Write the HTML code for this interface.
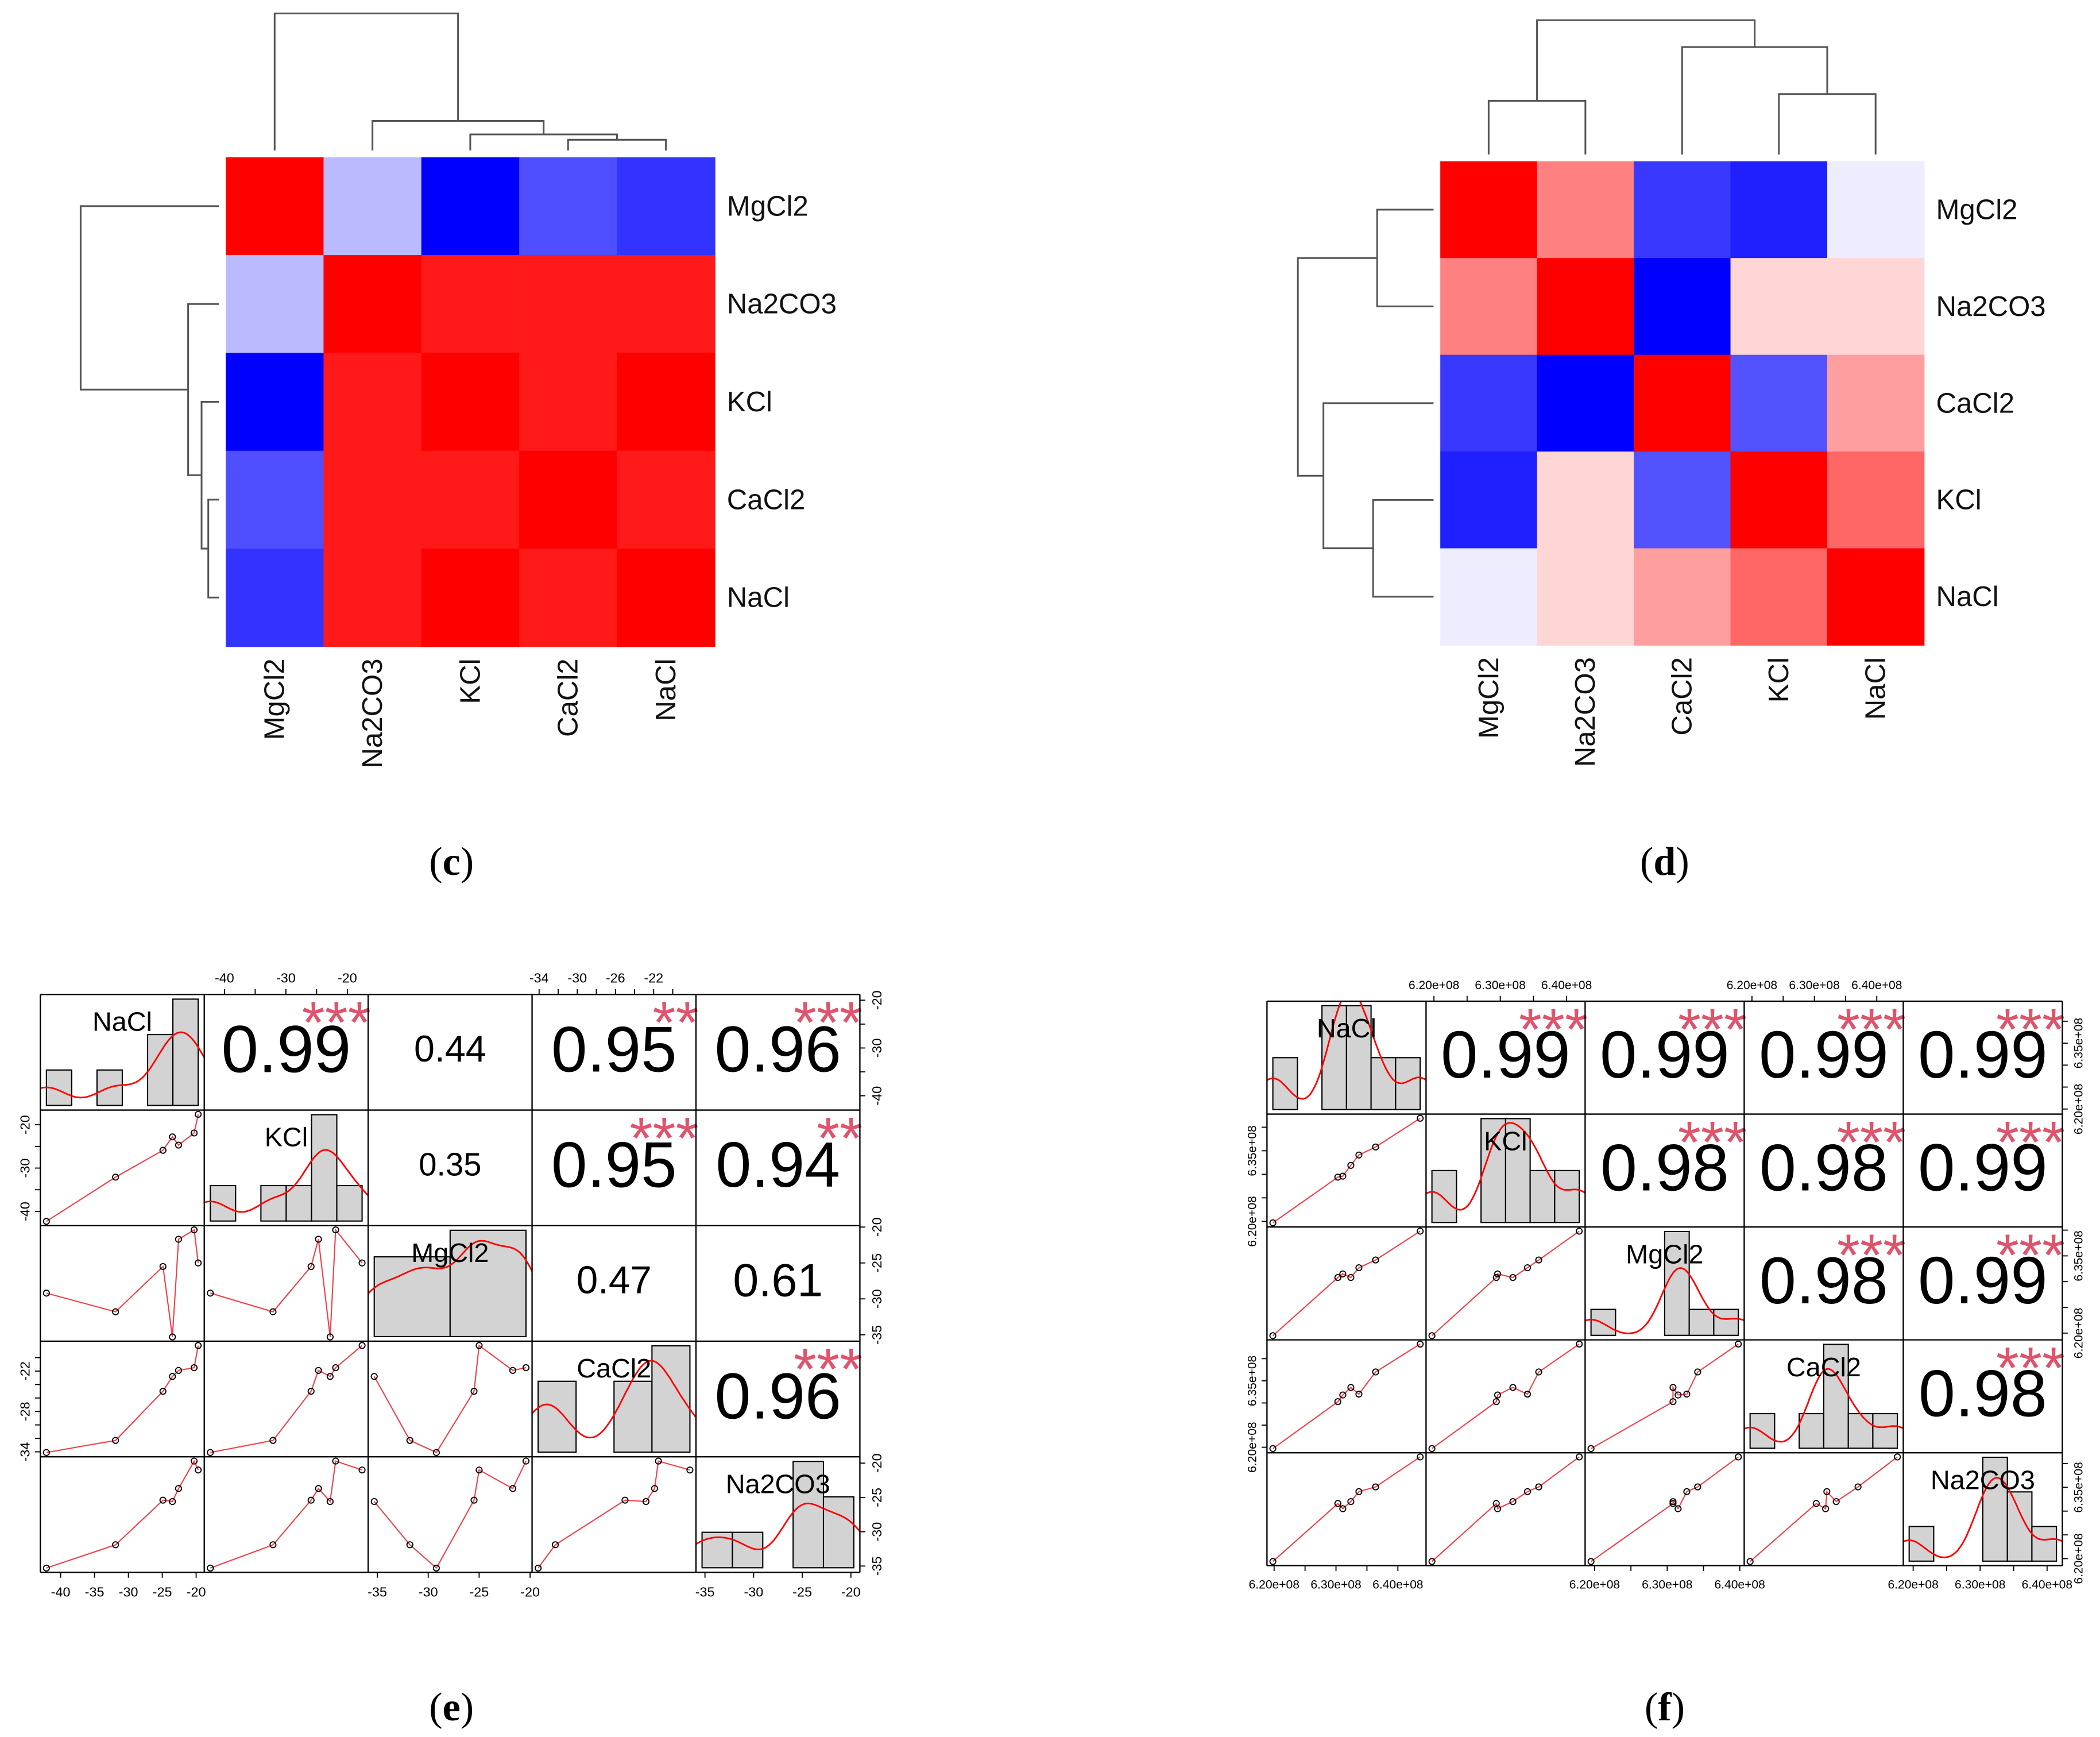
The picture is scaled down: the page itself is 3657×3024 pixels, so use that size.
<!DOCTYPE html>
<html><head><meta charset="utf-8"><style>
html,body{margin:0;padding:0;background:#fff;}
svg{display:block;font-family:"Liberation Sans",Arial,sans-serif;}
</style></head><body>
<svg id="root" width="3657" height="3024" viewBox="0 0 1563 1292.5" xmlns="http://www.w3.org/2000/svg">
<rect width="1563" height="1292.5" fill="#fff"/>
<g id="gc"></g>
<g id="gd"></g>
<g id="ge"></g>
<g id="gf"></g>
<text x="336" y="651" text-anchor="middle" font-family="Liberation Serif,serif" font-size="30">(<tspan font-weight="bold">c</tspan>)</text>
<text x="1239" y="651" text-anchor="middle" font-family="Liberation Serif,serif" font-size="30">(<tspan font-weight="bold">d</tspan>)</text>
<text x="336" y="1280" text-anchor="middle" font-family="Liberation Serif,serif" font-size="30">(<tspan font-weight="bold">e</tspan>)</text>
<text x="1239" y="1280" text-anchor="middle" font-family="Liberation Serif,serif" font-size="30">(<tspan font-weight="bold">f</tspan>)</text>
</svg>
<script>
// ---------- heatmap data ----------
const cRows = ["MgCl2","Na2CO3","KCl","CaCl2","NaCl"];
const cCols = ["MgCl2","Na2CO3","KCl","CaCl2","NaCl"];
const cVals = [
 [1,-0.27,-1,-0.69,-0.8],
 [-0.27,1,0.9,0.9,0.9],
 [-1,0.9,1,0.9,1],
 [-0.69,0.9,0.9,1,0.9],
 [-0.8,0.9,1,0.9,1]];
const cTopMerges = [[3,4,0.08],[2,5,0.12],[1,6,0.22],[0,7,1.02]];
const cLeftMerges = [[3,4,0.08],[2,5,0.13],[1,6,0.23],[0,7,1.03]];

const dRows = ["MgCl2","Na2CO3","CaCl2","KCl","NaCl"];
const dCols = ["MgCl2","Na2CO3","CaCl2","KCl","NaCl"];
const dVals = [
 [1,0.5,-0.78,-0.88,-0.07],
 [0.5,1,-1,0.16,0.16],
 [-0.78,-1,1,-0.68,0.38],
 [-0.88,0.16,-0.68,1,0.6],
 [-0.07,0.16,0.38,0.6,1]];
const dTopMerges = [[3,4,0.45],[2,5,0.8],[0,1,0.4],[7,6,1.0]];
const dLeftMerges = [[0,1,0.42],[3,4,0.45],[2,6,0.82],[5,7,1.01]];

// ---------- pairs data (e) ----------
const eNames = ["NaCl","KCl","MgCl2","CaCl2","Na2CO3"];
const eNaCl = [-42.1,-31.9,-24.9,-23.5,-22.6,-20.3,-19.7];
const eKCl = [-42.3,-32.1,-25.9,-22.8,-24.7,-21.9,-17.6];
const eMgCl2 = [-29.2,-31.8,-25.5,-35.3,-21.7,-20.4,-25.0];
const eCaCl2 = [-34.1,-32.3,-25.0,-22.8,-21.9,-21.5,-18.2];
const eNa2CO3 = [-35.3,-31.9,-25.4,-25.6,-23.7,-19.7,-21.0];
const eCorr = [[0,0.99,0.44,0.95,0.96],[0,0,0.35,0.95,0.94],[0,0,0,0.47,0.61],[0,0,0,0,0.96]];
const eStars = [["","***","","**","***"],["","","","***","**"],["","","","",""],["","","","","***"]];
const eBins = [6,6,2,4,5];
const eTicks = [[-40,-35,-30,-25,-20],[-40,-35,-30,-25,-20],[-35,-30,-25,-20],[-34,-32,-30,-28,-26,-24,-22,-20],[-35,-30,-25,-20]];

// ---------- pairs data (f), values in 1e8 ----------
const fNames = ["NaCl","KCl","MgCl2","CaCl2","Na2CO3"];
const fNaCl = [6.198,6.303,6.311,6.324,6.337,6.364,6.436];
const fKCl = [6.197,6.294,6.296,6.319,6.341,6.358,6.419];
const fMgCl2 = [6.195,6.308,6.315,6.308,6.327,6.342,6.398];
const fCaCl2 = [6.197,6.303,6.318,6.335,6.320,6.370,6.433];
const fNa2CO3 = [6.194,6.316,6.305,6.320,6.341,6.351,6.414];
const fCorr = [[0,0.99,0.99,0.99,0.99],[0,0,0.98,0.98,0.99],[0,0,0,0.98,0.99],[0,0,0,0,0.98]];
const fStars = [["","***","***","***","***"],["","","***","***","***"],["","","","***","***"],["","","","","***"]];
const fBins = [6,6,6,6,6];
const fTicks = [[6.20,6.25,6.30,6.35,6.40],[6.20,6.25,6.30,6.35,6.40],[6.20,6.25,6.30,6.35,6.40],[6.20,6.25,6.30,6.35,6.40],[6.20,6.25,6.30,6.35,6.40]];

const NS="http://www.w3.org/2000/svg";
function mk(tag,attrs,parent){const e=document.createElementNS(NS,tag);for(const k in attrs)e.setAttribute(k,attrs[k]);parent.appendChild(e);return e;}
function col(v){let r,g,b;if(v>=0){r=255;g=b=Math.round(255*(1-v));}else{r=g=Math.round(255*(1+v));b=255;}return `rgb(${r},${g},${b})`;}

function heatmap(gid,rows,cols,vals,topM,leftM,x0,y0,cell,labX,topBase,leftBase){
  const g=document.getElementById(gid);
  for(let i=0;i<rows.length;i++)for(let j=0;j<cols.length;j++){
    const r=mk('rect',{x:x0+j*cell,y:y0+i*cell,width:cell+0.4,height:cell+0.4,fill:col(vals[i][j])},g);
    
    
  }
  rows.forEach((n,i)=>{const t=mk('text',{x:labX,y:y0+i*cell+cell/2+7,'font-size':21,fill:'#111'},g);t.textContent=n;
    
    });
  cols.forEach((n,j)=>{const cx=x0+j*cell+cell/2+7;const cy=y0+cols.length*cell+9;
    const t=mk('text',{x:cx,y:cy,'font-size':21,fill:'#111','text-anchor':'end',transform:`rotate(-90 ${cx} ${cy})`},g);t.textContent=n;
    
    });
  function dendro(merges,n,horiz){
    const pos=[],ht=[];
    for(let i=0;i<n;i++){pos.push((horiz?x0:y0)+i*cell+cell/2);ht.push(0);}
    const dg=mk('g',{stroke:'#555','stroke-width':1.3,fill:'none'},g);
    
    
    merges.forEach(m=>{
      const a=m[0],b=m[1],h=m[2];
      const f=v=>horiz?(topBase-v*100):(leftBase-v*100);
      const pa=pos[a],pb=pos[b];
      let d;
      if(horiz) d=`M${pa},${f(ht[a])}V${f(h)}H${pb}V${f(ht[b])}`;
      else d=`M${f(ht[a])},${pa}H${f(h)}V${pb}H${f(ht[b])}`;
      mk('path',{d:d},dg);
      pos.push((pa+pb)/2);ht.push(h);
    });
  }
  dendro(topM,cols.length,true);
  dendro(leftM,rows.length,false);
}
heatmap('gc',cRows,cCols,cVals,cTopMerges,cLeftMerges,168,117,72.8,541,112,163);
heatmap('gd',dRows,dCols,dVals,dTopMerges,dLeftMerges,1072,120,72,1441,115,1067);

function pairs(gid,names,data,corr,stars,bins,ticks,box,fmt,fs){
  const g=document.getElementById(gid);
  const n=names.length;const W=(box[2]-box[0])/n,H=(box[3]-box[1])/n;
  const rng=data.map(d=>{const mn=Math.min(...d),mx=Math.max(...d),p=(mx-mn)*0.04;return [mn-p,mx+p];});
  const sx=(k,j,v)=>box[0]+j*W+(v-rng[k][0])/(rng[k][1]-rng[k][0])*W;
  const sy=(k,i,v)=>box[1]+(i+1)*H-(v-rng[k][0])/(rng[k][1]-rng[k][0])*H;
  const clip=mk('clipPath',{id:gid+'clip'},g);mk('rect',{x:box[0],y:box[1],width:box[2]-box[0],height:box[3]-box[1]},clip);
  const inner=mk('g',{'clip-path':`url(#${gid}clip)`},g);
  for(let i=0;i<n;i++)for(let j=0;j<n;j++){
    const px=box[0]+j*W,py=box[1]+i*H;
    if(i===j){
      const d=data[i],nb=bins[i],mn=Math.min(...d),mx=Math.max(...d),bw=(mx-mn)/nb;
      const cnt=new Array(nb).fill(0);d.forEach(v=>{let b=Math.floor((v-mn)/bw);if(b>=nb)b=nb-1;cnt[b]++;});
      const dens=cnt.map(c=>c/(d.length*bw));const top=Math.max(...dens);
      const yb=py+H*0.96,ys=v=>yb-v/top*(H*0.92);
      cnt.forEach((c,b)=>{const r=mk('rect',{x:sx(i,j,mn+b*bw),y:ys(dens[b]),width:bw/(rng[i][1]-rng[i][0])*W,height:yb-ys(dens[b]),fill:'#d3d3d3',stroke:'#000','stroke-width':0.9},inner);
        
        });
      const mean=d.reduce((a,b)=>a+b)/d.length;const sd=Math.sqrt(d.reduce((a,b)=>a+(b-mean)**2,0)/(d.length-1));
      const bwk=0.9*sd*Math.pow(d.length,-0.2)*0.6;
      let pts=[];for(let s=0;s<=120;s++){const x=rng[i][0]+(rng[i][1]-rng[i][0])*s/120;let y=0;d.forEach(v=>{y+=Math.exp(-0.5*((x-v)/bwk)**2);});y/=d.length*bwk*Math.sqrt(2*Math.PI);pts.push(sx(i,j,x).toFixed(1)+','+ys(y).toFixed(1));}
      const pl=mk('polyline',{points:pts.join(' '),fill:'none',stroke:'#ff0000','stroke-width':1.2},inner);
      
      
      const t=mk('text',{x:px+W/2,y:py+27,'font-size':20,'text-anchor':'middle',fill:'#000'},g);t.textContent=names[i];
      
      
    } else if(i>j){
      const idx=data[j].map((v,k)=>k).sort((a,b)=>data[j][a]-data[j][b]);
      const pts=idx.map(k=>sx(j,j,data[j][k]).toFixed(1)+','+sy(i,i,data[i][k]).toFixed(1));
      const pl=mk('polyline',{points:pts.join(' '),fill:'none',stroke:'#f0404a','stroke-width':0.9},inner);
      
      
      data[j].forEach((v,k)=>{const c=mk('circle',{cx:sx(j,j,v),cy:sy(i,i,data[i][k]),r:2.2,fill:'none',stroke:'#000','stroke-width':0.8},inner);
        
        });
    } else {
      const r=corr[i][j];
      const t=mk('text',{x:px+W/2,y:py+H/2+(10+40*r)*0.36-3,'font-size':10+40*r,'text-anchor':'middle',fill:'#000'},g);t.textContent=r.toFixed(2);
      
      
      if(stars[i][j]){const s=mk('text',{x:px+W+2,y:py+36,'font-size':44,'text-anchor':'end',fill:'#df536b'},g);s.textContent=stars[i][j];
        
        }
    }
  }
  for(let k=0;k<=n;k++){mk('line',{x1:box[0]+k*W,y1:box[1],x2:box[0]+k*W,y2:box[3],stroke:'#000','stroke-width':1},g);
    mk('line',{x1:box[0],y1:box[1]+k*H,x2:box[2],y2:box[1]+k*H,stroke:'#000','stroke-width':1},g);}
  const ag=mk('g',{stroke:'#000','stroke-width':0.8,'font-size':fs,fill:'#000'},g);
  
  
  for(let k=0;k<n;k++){
    const onBottom=(k%2===0), onRight=(k%2===0);
    let lastEnd=-1e9;
    ticks[k].forEach(v=>{
      const x=sx(k,k,v); if(x<box[0]+k*W-1||x>box[0]+(k+1)*W+1)return;
      const y0=onBottom?box[3]:box[1];const dy=onBottom?4:-4;
      mk('line',{x1:x,y1:y0,x2:x,y2:y0+dy},ag);
      const lab=fmt(v);const w=lab.length*fs*0.52;
      if(x-w/2>lastEnd+fs*0.8){const t=mk('text',{x:x,y:onBottom?y0+fs+8:y0-9,'text-anchor':'middle',stroke:'none'},ag);t.textContent=lab;lastEnd=x+w/2;}
    });
    let lastY=1e9;
    ticks[k].forEach(v=>{
      const y=sy(k,k,v); if(y<box[1]+k*H-1||y>box[1]+(k+1)*H+1)return;
      const x0=onRight?box[2]:box[0];const dx=onRight?4:-4;
      mk('line',{x1:x0,y1:y,x2:x0+dx,y2:y},ag);
      const lab=fmt(v);const w=lab.length*fs*0.52;
      if(y+w/2<lastY-fs*0.8){const tx=onRight?x0+fs+6:x0-8;const t=mk('text',{x:tx,y:y,'text-anchor':'middle',stroke:'none',transform:`rotate(-90 ${tx} ${y})`},ag);t.textContent=lab;lastY=y-w/2;}
    });
  }
}
pairs('ge',eNames,[eNaCl,eKCl,eMgCl2,eCaCl2,eNa2CO3],eCorr,eStars,eBins,eTicks,[30,740,640,1170],v=>String(v),10);
pairs('gf',fNames,[fNaCl,fKCl,fMgCl2,fCaCl2,fNa2CO3],fCorr,fStars,fBins,fTicks,[943,745,1535,1165],v=>v.toFixed(2)+'e+08',9);
</script>
</body></html>
